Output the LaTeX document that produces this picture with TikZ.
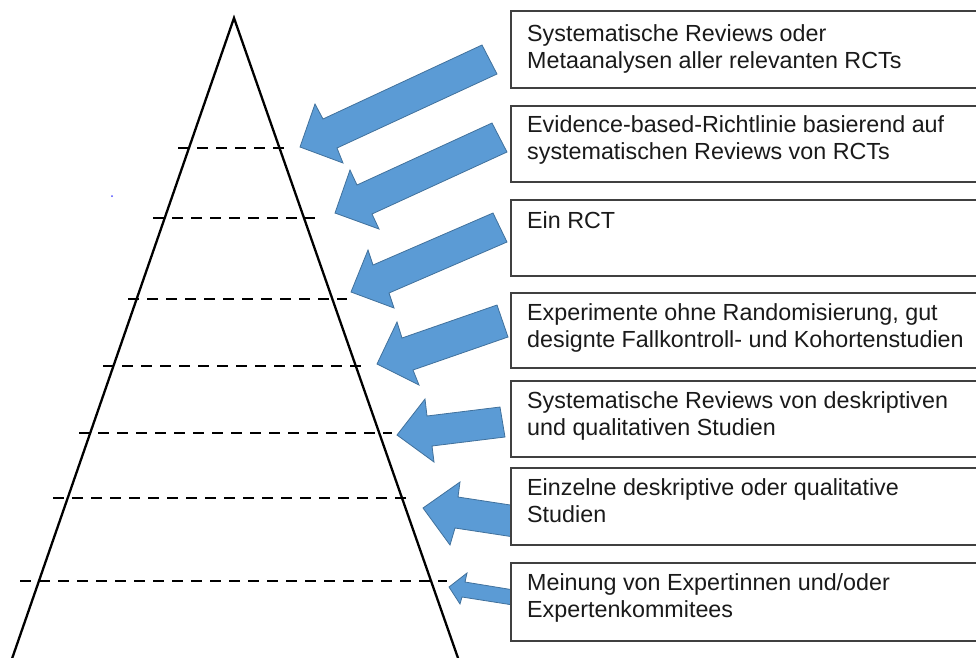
\documentclass[tikz,border=0pt]{standalone}
\usepackage{fontspec}
\setmainfont{Liberation Sans}
\definecolor{arrowblue}{RGB}{91,155,213}
\definecolor{arrowedge}{RGB}{65,113,156}
\definecolor{boxgray}{RGB}{64,64,64}
\definecolor{textcol}{RGB}{26,26,26}
\begin{document}
\begin{tikzpicture}[x=1pt,y=-1pt,
  tri/.style={line width=2.3pt,line join=miter},
  level/.style={line width=2.8pt, dash pattern=on 11pt off 8pt},
  blockarrow/.style={fill=arrowblue, draw=arrowedge, line width=0.8pt, line join=miter},
  box/.style={draw=boxgray, fill=white, line width=1.4pt, rectangle, anchor=north west, inner sep=0pt, outer sep=0pt, minimum width=480pt},
  lbl/.style={anchor=base west, font=\fontsize{23.3}{27}\selectfont, align=left, text=textcol, inner sep=0pt}]
\useasboundingbox (0,0) rectangle (976,657);
\clip (0,0) rectangle (976,657);
% pyramid
\coordinate (apex) at (234,18);
\coordinate (bl) at (8.1,670);
\coordinate (br) at (462.2,670);
\draw[tri] (bl) -- (apex) -- (br);
% level lines
\draw[level] (178,148) -- (285,148);
\draw[level] (153,218) -- (315,218);
\draw[level] (128,299) -- (347,299);
\draw[level] (103,366) -- (365,366);
\draw[level] (79,433) -- (392,433);
\draw[level] (53,498) -- (413,498);
\draw[level] (20,581) -- (447,581);
% stray dot
\fill[blue!70] (112,196) circle (1pt);
% block arrows
\draw[blockarrow] (300,147) -- (315,104) -- (323,119) -- (482,45) -- (497,74) -- (337,148) -- (343,163) -- cycle;
\draw[blockarrow] (335,213) -- (350,170) -- (357,185) -- (492,123) -- (507,152) -- (372,214) -- (379,229) -- cycle;
\draw[blockarrow] (351,292) -- (368,250) -- (373,265) -- (493,213) -- (507,242) -- (389,293) -- (394,308) -- cycle;
\draw[blockarrow] (377,364) -- (397,322) -- (402,338) -- (497,305) -- (508,337) -- (413,370) -- (419,385) -- cycle;
\draw[blockarrow] (397,435) -- (425,399) -- (427,416) -- (500,407) -- (505,437) -- (432,446) -- (434,462) -- cycle;
\draw[blockarrow] (423,508) -- (460,482) -- (458,497) -- (517,506) -- (514,537) -- (455,528) -- (450,545) -- cycle;
\draw[blockarrow] (449,587) -- (467,573) -- (465,582) -- (514,590) -- (513,605) -- (462,597) -- (460,604) -- cycle;
% boxes
\node[box, minimum height=77pt] (b1) at (511,11) {};
\node[box, minimum height=76pt] (b2) at (511,106) {};
\node[box, minimum height=76pt] (b3) at (511,200) {};
\node[box, minimum height=75pt] (b4) at (511,293) {};
\node[box, minimum height=76pt] (b5) at (511,381) {};
\node[box, minimum height=77pt] (b6) at (511,468) {};
\node[box, minimum height=78pt] (b7) at (511,563) {};
% texts (base anchor = baseline of last line)
\node[lbl] (t1) at (527,68) {Systematische Reviews oder\\Metaanalysen aller relevanten RCTs};
\node[lbl] (t2) at (527,159) {Evidence-based-Richtlinie basierend auf\\systematischen Reviews von RCTs};
\node[lbl] (t3) at (527,228) {Ein RCT};
\node[lbl] (t4) at (527,347) {Experimente ohne Randomisierung, gut\\designte Fallkontroll- und Kohortenstudien};
\node[lbl] (t5) at (527,435) {Systematische Reviews von deskriptiven\\und qualitativen Studien};
\node[lbl] (t6) at (527,522) {Einzelne deskriptive oder qualitative\\Studien};
\node[lbl] (t7) at (527,617) {Meinung von Expertinnen und/oder\\Expertenkommitees};
\end{tikzpicture}
\end{document}
